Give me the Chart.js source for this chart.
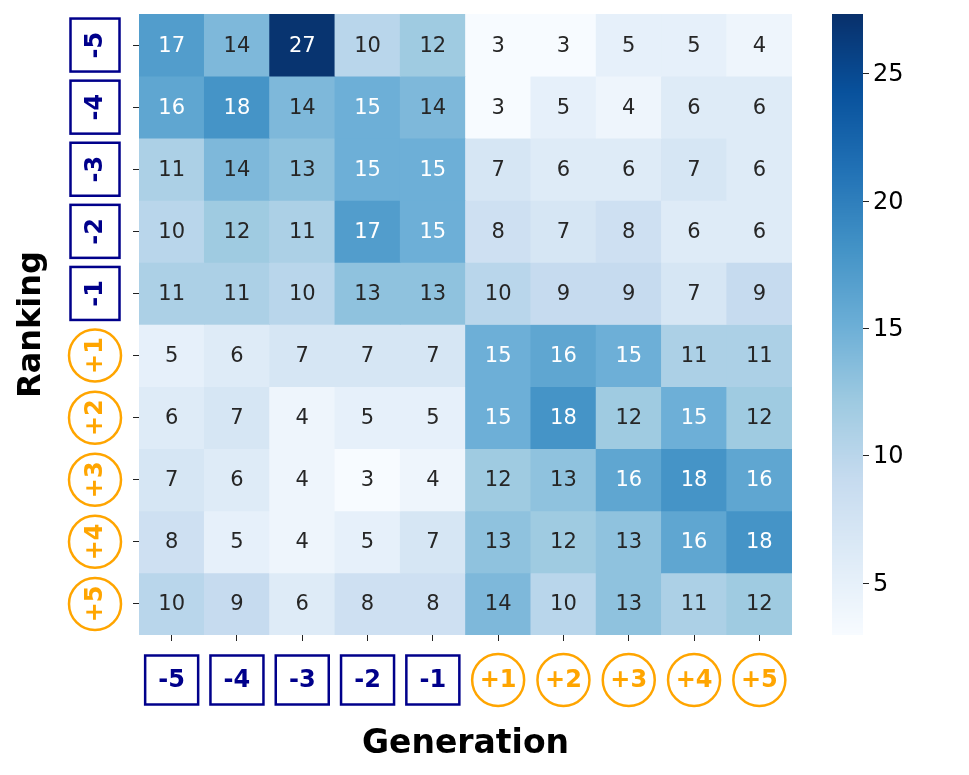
<!DOCTYPE html>
<html>
<head>
<meta charset="utf-8">
<script src="https://cdn.jsdelivr.net/npm/chart.js@4"></script>
<style>
  html, body { margin: 0; padding: 0; background: #fff; }
</style>
</head>
<body>
<canvas id="heat" width="969" height="775"></canvas>
<script>
// categories
const generations = ['-5', '-4', '-3', '-2', '-1', '+1', '+2', '+3', '+4', '+5'];
const rankings = ['-5', '-4', '-3', '-2', '-1', '+1', '+2', '+3', '+4', '+5'];

// one row per ranking, one value per generation
const rowM5 = [17, 14, 27, 10, 12, 3, 3, 5, 5, 4];
const rowM4 = [16, 18, 14, 15, 14, 3, 5, 4, 6, 6];
const rowM3 = [11, 14, 13, 15, 15, 7, 6, 6, 7, 6];
const rowM2 = [10, 12, 11, 17, 15, 8, 7, 8, 6, 6];
const rowM1 = [11, 11, 10, 13, 13, 10, 9, 9, 7, 9];
const rowP1 = [5, 6, 7, 7, 7, 15, 16, 15, 11, 11];
const rowP2 = [6, 7, 4, 5, 5, 15, 18, 12, 15, 12];
const rowP3 = [7, 6, 4, 3, 4, 12, 13, 16, 18, 16];
const rowP4 = [8, 5, 4, 5, 7, 13, 12, 13, 16, 18];
const rowP5 = [10, 9, 6, 8, 8, 14, 10, 13, 11, 12];
const values = [rowM5, rowM4, rowM3, rowM2, rowM1, rowP1, rowP2, rowP3, rowP4, rowP5];

// colour bar
const colorbarTicks = [5, 10, 15, 20, 25];
const colorMin = 2.95;
const colorMax = 27.33;

const BLUES = ['#f7fbff', '#deebf7', '#c6dbef', '#9ecae1', '#6baed6', '#4292c6', '#2171b5', '#08519c', '#08306b'];
const NAVY = '#00008b';
const ORANGE = '#ffa500';

const hexToRgb = h => [1, 3, 5].map(i => parseInt(h.slice(i, i + 2), 16));
const blueRgb = v => {
  let t = (v - colorMin) / (colorMax - colorMin);
  t = Math.max(0, Math.min(1, t)) * (BLUES.length - 1);
  const i = Math.min(Math.floor(t), BLUES.length - 2);
  const f = t - i;
  const a = hexToRgb(BLUES[i]), b = hexToRgb(BLUES[i + 1]);
  return a.map((c, k) => Math.round(c + (b[k] - c) * f));
};
const blue = v => {
  const [r, g, b] = blueRgb(v);
  return `rgb(${r},${g},${b})`;
};
// same rule as seaborn: light text on dark cells
const textColor = v => {
  const lin = blueRgb(v).map(c => {
    c /= 255;
    return c <= 0.03928 ? c / 12.92 : Math.pow((c + 0.055) / 1.055, 2.4);
  });
  const lum = 0.2126 * lin[0] + 0.7152 * lin[1] + 0.0722 * lin[2];
  return lum < 0.408 ? '#ffffff' : '#262626';
};

Chart.defaults.font.family = '"DejaVu Sans", sans-serif';

const isNeg = lab => lab.startsWith('-');

function drawTag(ctx, label, cx, cy, w, h, vertical) {
  ctx.save();
  ctx.lineWidth = 2.5;
  if (isNeg(label)) {
    ctx.fillStyle = '#fff';
    ctx.strokeStyle = NAVY;
    ctx.fillRect(cx - w / 2, cy - h / 2, w, h);
    ctx.strokeRect(cx - w / 2, cy - h / 2, w, h);
    ctx.fillStyle = NAVY;
  } else {
    ctx.beginPath();
    ctx.arc(cx, cy, 26, 0, Math.PI * 2);
    ctx.fillStyle = '#fff';
    ctx.fill();
    ctx.strokeStyle = ORANGE;
    ctx.stroke();
    ctx.fillStyle = ORANGE;
  }
  ctx.font = 'bold 24px "DejaVu Sans"';
  ctx.textAlign = 'center';
  ctx.textBaseline = 'middle';
  ctx.translate(cx, cy);
  if (vertical) ctx.rotate(-Math.PI / 2);
  ctx.fillText(label, 0, 1);
  ctx.restore();
}

const overlay = {
  id: 'overlay',
  afterDatasetsDraw(chart) {
    const ctx = chart.ctx;
    ctx.save();
    ctx.font = '21px "DejaVu Sans"';
    ctx.textAlign = 'center';
    ctx.textBaseline = 'middle';
    chart.data.datasets.forEach((ds, r) => {
      chart.getDatasetMeta(r).data.forEach((bar, c) => {
        const p = bar.getProps(['x', 'y', 'base'], true);
        const v = values[r][c];
        ctx.fillStyle = textColor(v);
        ctx.fillText(String(v), p.x, (p.y + p.base) / 2 + 1);
      });
    });
    ctx.restore();
  },
  afterDraw(chart) {
    const {ctx, chartArea, scales} = chart;
    const xs = scales.x, ys = scales.y, cb = scales.cb;

    // colour bar
    const barLeft = 832, barW = 31;
    for (let py = Math.floor(cb.top); py < cb.bottom; py++) {
      ctx.fillStyle = blue(cb.getValueForPixel(py + 0.5));
      ctx.fillRect(barLeft, py, barW, 1);
    }
    ctx.strokeStyle = '#222';
    ctx.lineWidth = 1;
    ctx.fillStyle = '#000';
    ctx.font = '24px "DejaVu Sans"';
    ctx.textAlign = 'left';
    ctx.textBaseline = 'middle';
    cb.ticks.forEach(t => {
      const py = Math.round(cb.getPixelForValue(t.value)) + 0.5;
      ctx.beginPath();
      ctx.moveTo(barLeft + barW, py);
      ctx.lineTo(barLeft + barW + 6, py);
      ctx.stroke();
      ctx.fillText(String(t.value), barLeft + barW + 10, py + 1);
    });

    // tick tags
    generations.forEach((g, i) => {
      drawTag(ctx, g, xs.getPixelForValue(i), chartArea.bottom + 45, 53, 49, false);
    });
    rankings.forEach((r, i) => {
      drawTag(ctx, r, chartArea.left - 44, ys.getPixelForValue(i + 0.5), 49, 53, true);
    });

    // axis titles
    ctx.save();
    ctx.fillStyle = '#000';
    ctx.font = 'bold 33px "DejaVu Sans"';
    ctx.textAlign = 'center';
    ctx.textBaseline = 'alphabetic';
    ctx.fillText('Generation', (chartArea.left + chartArea.right) / 2, 753);
    ctx.font = 'bold 32px "DejaVu Sans"';
    ctx.translate(40, (chartArea.top + chartArea.bottom) / 2);
    ctx.rotate(-Math.PI / 2);
    ctx.fillText('Ranking', 0, 0);
    ctx.restore();
  }
};

const datasets = values.map((row, r) => ({
  label: rankings[r],
  data: row.map(() => [r, r + 1]),
  backgroundColor: row.map(blue),
  borderWidth: 0,
  grouped: false,
  barPercentage: 1,
  categoryPercentage: 1
}));

new Chart(document.getElementById('heat'), {
  type: 'bar',
  data: { labels: generations, datasets },
  options: {
    responsive: false,
    animation: false,
    layout: { padding: { left: 133, top: 14, right: 57, bottom: 134 } },
    plugins: { legend: { display: false }, tooltip: { enabled: false } },
    scales: {
      x: {
        type: 'category',
        offset: true,
        border: { display: false },
        grid: { offset: false, drawOnChartArea: false, tickLength: 6, color: '#222' },
        ticks: { display: false }
      },
      y: {
        type: 'linear',
        min: 0,
        max: 10,
        reverse: true,
        afterBuildTicks: axis => { axis.ticks = rankings.map((_, i) => ({ value: i + 0.5 })); },
        border: { display: false },
        grid: { drawOnChartArea: false, tickLength: 6, color: '#222' },
        ticks: { display: false }
      },
      cb: {
        type: 'linear',
        position: 'right',
        min: colorMin,
        max: colorMax,
        afterBuildTicks: axis => { axis.ticks = colorbarTicks.map(v => ({ value: v })); },
        border: { display: false },
        grid: { drawOnChartArea: false, tickLength: 120, color: 'rgba(0,0,0,0)' },
        ticks: { display: false }
      }
    }
  },
  plugins: [overlay]
});
</script>
</body>
</html>
